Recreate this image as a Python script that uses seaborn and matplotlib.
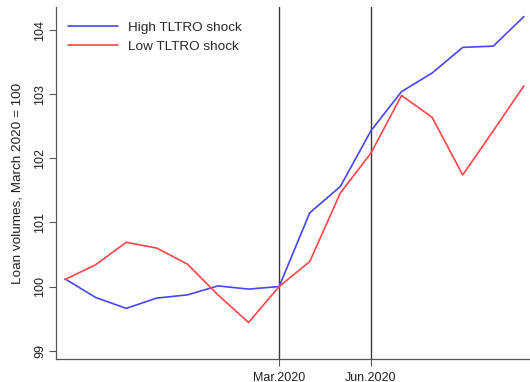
import matplotlib
matplotlib.use("Agg")
import matplotlib.pyplot as plt
import seaborn as sns
import pandas as pd

# Monthly loan volume index, Aug 2019 - Nov 2020 (March 2020 = 100)
months = ["Aug.2019", "Sep.2019", "Oct.2019", "Nov.2019", "Dec.2019", "Jan.2020",
          "Feb.2020", "Mar.2020", "Apr.2020", "May.2020", "Jun.2020", "Jul.2020",
          "Aug.2020", "Sep.2020", "Oct.2020", "Nov.2020"]
high_shock = [100.12, 99.83, 99.66, 99.82, 99.87, 100.01, 99.96, 100.00,
              101.15, 101.56, 102.43, 103.04, 103.33, 103.73, 103.75, 104.21]
low_shock = [100.11, 100.34, 100.69, 100.60, 100.35, 99.87, 99.44, 100.00,
             100.39, 101.46, 102.08, 102.98, 102.64, 101.74, 102.43, 103.13]
series_names = ["High TLTRO shock", "Low TLTRO shock"]
marked_months = ["Mar.2020", "Jun.2020"]
y_ticks = [99, 100, 101, 102, 103, 104]

sns.set_style("white")
plt.rcParams["font.family"] = ["Liberation Sans", "DejaVu Sans"]

pos = list(range(len(months)))
df = pd.DataFrame({
    "pos": pos * 2,
    "value": high_shock + low_shock,
    "series": [series_names[0]] * len(months) + [series_names[1]] * len(months),
})

fig = plt.figure(figsize=(5.30, 3.82), dpi=100)
ax = fig.add_axes([0.1057, 0.0602, 0.8943, 0.9215])

sns.lineplot(data=df, x="pos", y="value", hue="series",
             palette={series_names[0]: "#4646ff", series_names[1]: "#ff4646"},
             linewidth=1.2, ax=ax)

for m in marked_months:
    ax.axvline(months.index(m), color="#3a3a3a", linewidth=1.0, zorder=0)

ax.set_xlim(-0.294, 15.2)
ax.set_ylim(98.87, 104.36)
ax.set_xticks([months.index(m) for m in marked_months])
ax.set_xticklabels(marked_months, fontsize=9, color="#222222")
ax.set_yticks(y_ticks)
ax.set_yticklabels([str(t) for t in y_ticks], fontsize=9, rotation=90,
                   va="center", color="#222222")
ax.tick_params(axis="both", bottom=True, left=True, length=5, width=0.8,
               color="#555555", direction="out")
ax.tick_params(axis="x", pad=4)
ax.tick_params(axis="y", pad=2)
ax.set_xlabel("")
ax.set_ylabel("Loan volumes, March 2020 = 100", fontsize=9.7, color="#222222", labelpad=8)

for side in ["top", "right"]:
    ax.spines[side].set_visible(False)
for side in ["left", "bottom"]:
    ax.spines[side].set_color("#555555")
    ax.spines[side].set_linewidth(0.9)

leg = ax.legend(loc="upper left", bbox_to_anchor=(0.005, 0.985), frameon=False,
                fontsize=9.7, handlelength=3.7, handletextpad=0.75,
                borderaxespad=0.3, labelspacing=0.45)
leg.set_title(None)

fig.savefig("out.png", dpi=100)
